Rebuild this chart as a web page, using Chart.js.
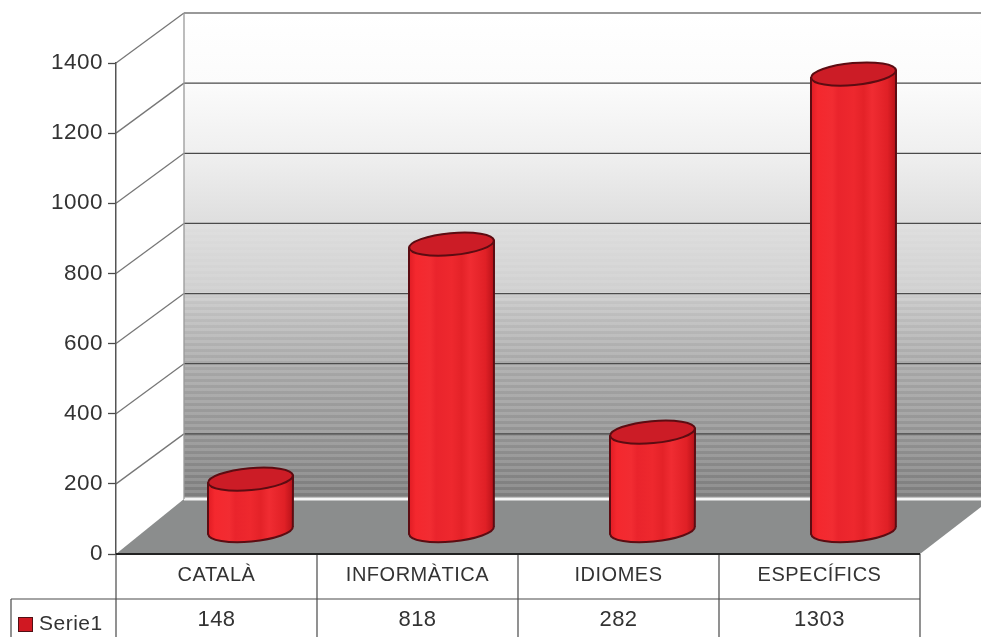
<!DOCTYPE html>
<html>
<head>
<meta charset="utf-8">
<title>Serie1</title>
<script src="https://cdn.jsdelivr.net/npm/chart.js@4"></script>
<style>
  html, body { margin: 0; padding: 0; background: #fff; }
  canvas { display: block; filter: blur(0.5px); }
</style>
</head>
<body>
<canvas id="chart" width="981" height="637"></canvas>
<script>
var categories = ["CATALÀ", "INFORMÀTICA", "IDIOMES", "ESPECÍFICS"];
var seriesName = "Serie1";
var seriesValues = [148, 818, 282, 1303];
var yTicks = [0, 200, 400, 600, 800, 1000, 1200, 1400];

// depth of the fake 3d box, in pixels
var wallDx = 68, wallDy = -50;
var barDx = 34, barDy = -23;
var FONT = '"Liberation Sans", Arial, sans-serif';
var LINE = "#4a4a4a";

class CylinderBar extends Chart.BarElement {
  static id = "cylinderBar";
  draw(ctx) {
    var p = this.getProps(["x", "y", "base", "width"]);
    var cx = p.x + barDx, top = p.y + barDy, bottom = p.base + barDy;
    var rx = p.width / 2, ry = 11, rot = -0.09;
    var lift = rx * Math.sin(rot);
    var left = cx - rx, right = cx + rx;

    ctx.save();
    ctx.lineJoin = "round";
    var g = ctx.createLinearGradient(left, 0, right, 0);
    g.addColorStop(0, "#e01c24");
    g.addColorStop(0.08, "#f4282e");
    g.addColorStop(0.25, "#f22c32");
    g.addColorStop(0.32, "#ea242c");
    g.addColorStop(0.5, "#ee282e");
    g.addColorStop(0.62, "#e42228");
    g.addColorStop(0.72, "#f02c32");
    g.addColorStop(0.9, "#e02026");
    g.addColorStop(1, "#b81219");

    ctx.beginPath();
    ctx.moveTo(left, top - lift);
    ctx.lineTo(left, bottom - lift);
    ctx.ellipse(cx, bottom, rx, ry, rot, Math.PI, 0, true);
    ctx.lineTo(right, top + lift);
    ctx.closePath();
    ctx.fillStyle = g;
    ctx.fill();
    ctx.strokeStyle = "#5c0c12";
    ctx.lineWidth = 2;
    ctx.stroke();

    ctx.beginPath();
    ctx.ellipse(cx, top, rx, ry, rot, 0, Math.PI * 2);
    ctx.fillStyle = "#cc1c26";
    ctx.fill();
    ctx.stroke();
    ctx.restore();
  }
}

class CylinderController extends Chart.BarController {
  static id = "cylinder";
  static defaults = { dataElementType: "cylinderBar" };
}

Chart.register(CylinderBar, CylinderController);

var box3d = {
  id: "box3d",
  beforeDraw: function(chart) {
    var ctx = chart.ctx, a = chart.chartArea, ys = chart.scales.y;
    var backLeft = a.left + wallDx, backRight = chart.width;
    var backTop = ys.getPixelForValue(1400) + wallDy;
    var backBottom = 499;

    ctx.save();
    var g = ctx.createLinearGradient(0, backTop, 0, backBottom);
    g.addColorStop(0, "#ffffff");
    g.addColorStop(0.15, "#fbfbfb");
    g.addColorStop(0.3, "#eeeeee");
    g.addColorStop(0.45, "#dcdcdc");
    g.addColorStop(0.57, "#d0d0d0");
    g.addColorStop(0.6, "#c2c2c2");
    g.addColorStop(0.72, "#a8a8a8");
    g.addColorStop(0.86, "#949494");
    g.addColorStop(1, "#7c7c7c");
    ctx.fillStyle = g;
    ctx.fillRect(backLeft, backTop, backRight - backLeft, backBottom - backTop);

    // banding of the wall gradient
    for (var y = 226; y < backBottom; y += 6) {
      ctx.fillStyle = y < 292 ? "rgba(255,255,255,0.07)" : "rgba(255,255,255,0.14)";
      ctx.fillRect(backLeft, y, backRight - backLeft, 3);
    }

    // floor
    ctx.fillStyle = "#8b8d8d";
    ctx.beginPath();
    ctx.moveTo(a.left, a.bottom);
    ctx.lineTo(a.right, a.bottom);
    ctx.lineTo(backRight, 507);
    ctx.lineTo(backRight, backBottom);
    ctx.lineTo(backLeft, backBottom);
    ctx.closePath();
    ctx.fill();
    ctx.strokeStyle = "#f4f4f4";
    ctx.lineWidth = 3;
    ctx.beginPath();
    ctx.moveTo(backLeft, backBottom);
    ctx.lineTo(backRight, backBottom);
    ctx.stroke();

    // grid lines on the side and back walls
    ctx.lineWidth = 1.3;
    yTicks.forEach(function(v) {
      if (v === 0) return;
      var py = ys.getPixelForValue(v);
      ctx.strokeStyle = "#777";
      ctx.beginPath();
      ctx.moveTo(a.left, py);
      ctx.lineTo(backLeft, py + wallDy);
      ctx.stroke();
      ctx.strokeStyle = v === 1400 ? "#777" : LINE;
      ctx.beginPath();
      ctx.moveTo(backLeft, py + wallDy);
      ctx.lineTo(backRight, py + wallDy);
      ctx.stroke();
    });
    ctx.beginPath();
    ctx.moveTo(backLeft, backTop);
    ctx.lineTo(backLeft, backBottom);
    ctx.strokeStyle = "#999";
    ctx.stroke();
    ctx.restore();

    // the source text is set a little wide
    ctx.letterSpacing = "0.5px";
  },
  afterDatasetsDraw: function(chart) {
    var ctx = chart.ctx, a = chart.chartArea, xs = chart.scales.x;
    var rowY = 599, h = chart.height, legendLeft = 11;
    var step = xs.getPixelForValue(1) - xs.getPixelForValue(0);

    ctx.save();
    ctx.strokeStyle = LINE;
    ctx.lineWidth = 1.2;
    ctx.beginPath();
    ctx.moveTo(legendLeft, rowY);
    ctx.lineTo(a.right, rowY);
    ctx.moveTo(legendLeft, rowY);
    ctx.lineTo(legendLeft, h);
    for (var i = 0; i <= categories.length; i++) {
      var x = xs.getPixelForValue(0) - step / 2 + i * step;
      ctx.moveTo(x, a.bottom);
      ctx.lineTo(x, h);
    }
    ctx.stroke();

    ctx.strokeStyle = "#222";
    ctx.lineWidth = 2;
    ctx.beginPath();
    ctx.moveTo(a.left, a.bottom);
    ctx.lineTo(a.right, a.bottom);
    ctx.stroke();

    ctx.fillStyle = "#333";
    ctx.font = "22px " + FONT;
    ctx.textAlign = "center";
    ctx.textBaseline = "middle";
    seriesValues.forEach(function(v, i) {
      ctx.fillText(String(v), xs.getPixelForValue(i), 620);
    });
    ctx.textAlign = "left";
    ctx.font = "21px " + FONT;
    ctx.fillText(seriesName, 39, 624);

    ctx.fillStyle = "#d01822";
    ctx.strokeStyle = "#501015";
    ctx.lineWidth = 1;
    ctx.fillRect(18.5, 617.5, 14, 14);
    ctx.strokeRect(18.5, 617.5, 14, 14);
    ctx.restore();
  }
};

new Chart(document.getElementById("chart"), {
  type: "cylinder",
  data: {
    labels: categories,
    datasets: [{
      label: seriesName,
      data: seriesValues,
      barThickness: 85,
      clip: false
    }]
  },
  plugins: [box3d],
  options: {
    responsive: false,
    animation: false,
    layout: { padding: { top: 63, right: 61, left: 0, bottom: 0 } },
    plugins: { legend: { display: false }, tooltip: { enabled: false } },
    scales: {
      x: {
        type: "category",
        offset: true,
        grid: { display: false },
        border: { display: false },
        afterFit: function(scale) { scale.height = 83; },
        ticks: { color: "#333", padding: 1, maxRotation: 0, font: { family: FONT, size: 20 } }
      },
      y: {
        min: 0,
        max: 1400,
        afterFit: function(scale) { scale.width = 116; },
        afterBuildTicks: function(scale) {
          scale.ticks = yTicks.map(function(v) { return { value: v }; });
        },
        grid: { drawOnChartArea: false, tickLength: 8, color: LINE, tickWidth: 1.3 },
        border: { color: "#555", width: 1.5 },
        ticks: {
          color: "#333",
          padding: 5,
          font: { family: FONT, size: 22.5 },
          callback: function(v) { return String(v); }
        }
      }
    }
  }
});
</script>
</body>
</html>
